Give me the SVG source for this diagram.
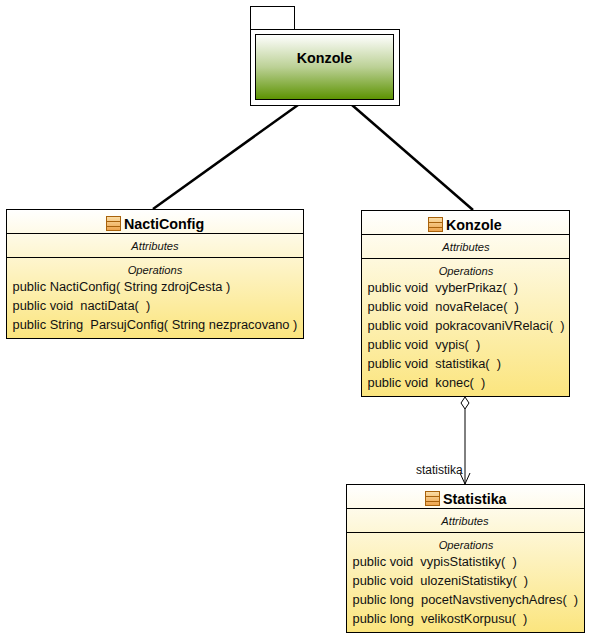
<svg xmlns="http://www.w3.org/2000/svg" width="595" height="643" viewBox="0 0 595 643">
<style>
text{font-family:"Liberation Sans",Arial,sans-serif;font-size:12.85px;fill:#111;white-space:pre}
.t{font-weight:bold;font-size:14.3px;fill:#000}
.c{font-style:italic;font-size:11.2px;text-anchor:middle}
.b{fill:none;stroke:#000;stroke-width:1}
.i{fill:url(#ic);stroke:#a8620c;stroke-width:1}
.il{stroke:#a8620c;stroke-width:1;fill:none}
.k{stroke:#000;stroke-width:2.5;fill:none}
</style>
<defs>
<linearGradient id="y" x1="0" y1="0" x2="0" y2="1"><stop offset="0" stop-color="#fff"/><stop offset="1" stop-color="#fbe57e"/></linearGradient>
<linearGradient id="g" x1="0" y1="0" x2="0" y2="1"><stop offset="0" stop-color="#fff"/><stop offset="0.5" stop-color="#bcd196"/><stop offset="1" stop-color="#5b9200"/></linearGradient>
<linearGradient id="ic" x1="0" y1="0" x2="0" y2="1"><stop offset="0" stop-color="#fbdfa8"/><stop offset="1" stop-color="#eca24a"/></linearGradient>
<g id="icon"><rect class="i" x="0.5" y="0.5" width="14" height="14"/><path class="il" d="M1 5.500H14M1 10.500H14"/></g>
</defs>
<g id="connectors">
<path class="k" d="M298 105L153 209"/>
<path class="k" d="M352 105L473 210"/>
<path d="M465 409V484" stroke="#000" fill="none"/>
<path d="M465 397L469 403L465 409L461 403Z" fill="#fff" stroke="#000"/>
<path d="M460 473L465 484L470 473" fill="none" stroke="#000"/>
<text x="416" y="474" style="font-size:12px">statistika</text>
</g>
<g id="package-konzole">
<rect x="250.500" y="6.500" width="44" height="23" fill="#fff" stroke="#000"/>
<rect x="250.500" y="29.500" width="149" height="76" fill="#fff" stroke="#000"/>
<rect x="255.500" y="34.500" width="138" height="65" fill="url(#g)" stroke="#000"/>
<text class="t" x="324.500" y="63" text-anchor="middle">Konzole</text>
</g>
<g id="class-nacticonfig">
<rect x="6.500" y="209.500" width="297" height="129" fill="url(#y)"/>
<rect class="b" x="6.500" y="209.500" width="297" height="129"/>
<path class="b" d="M6.500 233.500H303.500M6.500 257.500H303.500"/>
<use href="#icon" x="106" y="216"/>
<text class="t" x="124" y="229">NactiConfig</text>
<text class="c" x="155" y="250">Attributes</text>
<text class="c" x="155" y="274">Operations</text>
<text x="12.500" y="291">public NactiConfig( String zdrojCesta )</text>
<text x="12.500" y="310">public void  nactiData(  )</text>
<text x="12.500" y="329">public String  ParsujConfig( String nezpracovano )</text>
</g>
<g id="class-konzole">
<rect x="361.500" y="210.500" width="208" height="186" fill="url(#y)"/>
<rect class="b" x="361.500" y="210.500" width="208" height="186"/>
<path class="b" d="M361.500 234.500H569.500M361.500 258.500H569.500"/>
<use href="#icon" x="428" y="217"/>
<text class="t" x="446" y="230">Konzole</text>
<text class="c" x="466" y="251">Attributes</text>
<text class="c" x="466" y="275">Operations</text>
<text x="367.500" y="292">public void  vyberPrikaz(  )</text>
<text x="367.500" y="311">public void  novaRelace(  )</text>
<text x="367.500" y="330">public void  pokracovaniVRelaci(  )</text>
<text x="367.500" y="349">public void  vypis(  )</text>
<text x="367.500" y="368">public void  statistika(  )</text>
<text x="367.500" y="387">public void  konec(  )</text>
</g>
<g id="class-statistika">
<rect x="346.500" y="484.500" width="238" height="148" fill="url(#y)"/>
<rect class="b" x="346.500" y="484.500" width="238" height="148"/>
<path class="b" d="M346.500 508.500H584.500M346.500 532.500H584.500"/>
<use href="#icon" x="425" y="491"/>
<text class="t" x="443" y="504">Statistika</text>
<text class="c" x="465" y="525">Attributes</text>
<text class="c" x="466" y="549">Operations</text>
<text x="352.500" y="566">public void  vypisStatistiky(  )</text>
<text x="352.500" y="585">public void  ulozeniStatistiky(  )</text>
<text x="352.500" y="604">public long  pocetNavstivenychAdres(  )</text>
<text x="352.500" y="623">public long  velikostKorpusu(  )</text>
</g>
</svg>
